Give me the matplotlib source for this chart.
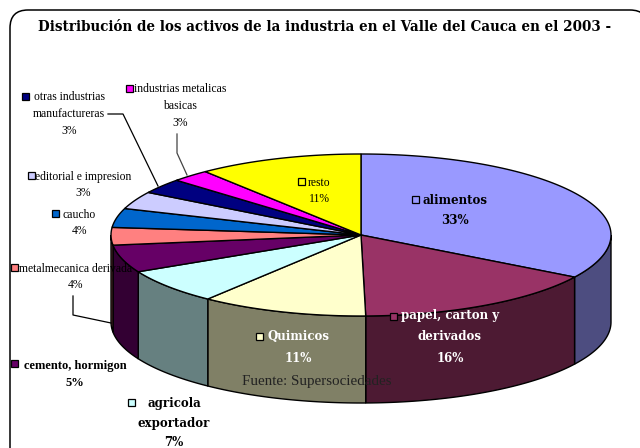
import numpy as np
import matplotlib
matplotlib.use("Agg")
import matplotlib.pyplot as plt
from matplotlib.patches import FancyBboxPatch, Rectangle

plt.rcParams['font.family'] = ['Liberation Serif', 'DejaVu Serif']

title = "Distribución de los activos de la industria en el Valle del Cauca en el 2003 -"
source = "Fuente: Supersociedades"

# slices, clockwise from 12 o'clock
names = ["alimentos", "papel, carton y\nderivados", "Quimicos", "agricola\nexportador",
         "cemento, hormigon", "metalmecanica derivada", "caucho", "editorial e impresion",
         "otras industrias\nmanufactureras", "industrias metalicas\nbasicas", "resto"]
values = [33.7, 16.0, 10.8, 7.0, 5.5, 3.5, 3.8, 3.5, 3.0, 2.5, 10.7]
shown_pct = ["33%", "16%", "11%", "7%", "5%", "4%", "4%", "3%", "3%", "3%", "11%"]
top_colors = ["#9999ff", "#993366", "#ffffcc", "#ccffff", "#660066", "#ff8080",
              "#0066cc", "#ccccff", "#000080", "#ff00ff", "#ffff00"]
side_colors = ["#4d4d80", "#4d1a33", "#808066", "#668080", "#330033", "#804040",
               "#003366", "#666680", "#000040", "#800080", "#808000"]

# pie geometry in pixels
cx, cy, rx, ry, depth = 361, 235, 250, 81, 87

# label placement: text x, first line y, key x, key y, line spacing, style, colour
label_pos = [
    (455, 200, 415, 200, 20, "wide", "#000000"),
    (450, 316, 393, 317, 21, "wide", "#ffffff"),
    (298, 337, 259, 337, 21, "wide", "#ffffff"),
    (174, 403, 131, 403, 20, "wide", "#000000"),
    (75, 366, 14, 364, 17, "bold", "#000000"),
    (76, 269, 14, 268, 16, "plain", "#000000"),
    (79, 215, 55, 214, 16, "plain", "#000000"),
    (83, 177, 31, 176, 16, "plain", "#000000"),
    (69, 97, 25, 97, 17, "plain", "#000000"),
    (180, 89, 129, 89, 17, "plain", "#000000"),
    (319, 183, 301, 182, 16, "plain", "#000000"),
]
text_styles = {
    "wide": dict(family="DejaVu Serif", fontweight="bold", fontsize=8.5),
    "bold": dict(fontweight="bold", fontsize=9),
    "plain": dict(fontsize=8.4),
}

leaders = [
    ([108, 123, 158], [114, 114, 186], "#000000"),
    ([177, 177, 187], [134, 153, 175], "#444444"),
    ([73, 73, 111], [296, 315, 323], "#000000"),
]


def ellipse_pts(a0, a1, drop=0):
    t = np.radians(np.linspace(a0, a1, max(int(abs(a1 - a0) * 2), 2)))
    return cx + rx * np.sin(t), cy - ry * np.cos(t) + drop


fig = plt.figure(figsize=(6.4, 4.48), dpi=100)
ax = fig.add_axes([0, 0, 1, 1])
ax.set_xlim(0, 640)
ax.set_ylim(448, 0)
ax.axis("off")

ax.add_patch(FancyBboxPatch((28, 28), 602, 420, boxstyle="round,pad=18,rounding_size=18",
                            fc="white", ec="black", lw=1.1, zorder=0))

edges = np.concatenate([[0], np.cumsum(values)]) / np.sum(values) * 360

# outer wall, only the front half shows
for i in range(len(values)):
    a0, a1 = max(edges[i], 90), min(edges[i + 1], 270)
    if a1 <= a0:
        continue
    x, y = ellipse_pts(a0, a1)
    xb, yb = ellipse_pts(a1, a0, depth)
    ax.fill(np.r_[x, xb], np.r_[y, yb], fc=side_colors[i], ec="black", lw=1.0, zorder=1)

# top face
for i in range(len(values)):
    x, y = ellipse_pts(edges[i], edges[i + 1])
    ax.fill(np.r_[cx, x], np.r_[cy, y], fc=top_colors[i], ec="black", lw=1.0, zorder=2)

for lx, ly, lc in leaders:
    ax.plot(lx, ly, color=lc, lw=0.9, zorder=3)

for name, pct, color, pos in zip(names, shown_pct, top_colors, label_pos):
    tx, ty, kx, ky, step, style, tc = pos
    lines = name.split("\n") + [pct]
    for j, line in enumerate(lines):
        ax.text(tx, ty + j * step, line, ha="center", va="center", color=tc, zorder=5,
                **text_styles[style])
    ax.add_patch(Rectangle((kx - 3.5, ky - 3.5), 7, 7, fc=color, ec="black", lw=0.9, zorder=5))

ax.text(317, 381, source, ha="center", va="center", fontsize=10.8, color="#222222", zorder=5)
ax.text(324.5, 27, title, ha="center", va="center", family="DejaVu Serif", fontsize=9.75,
        fontweight="bold", color="black", zorder=5)

fig.savefig("out.png", dpi=100)
